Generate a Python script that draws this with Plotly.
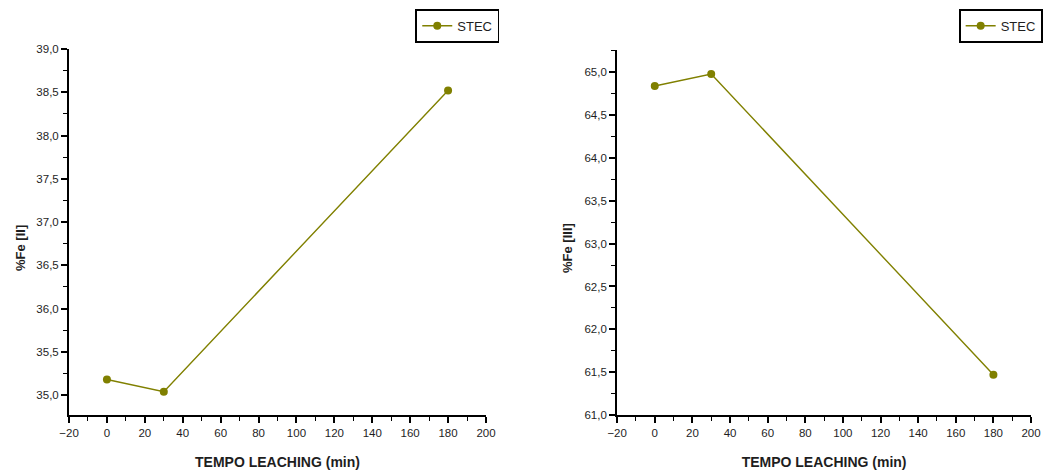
import plotly.graph_objects as go

# Leaching time (min) and iron content for the STEC samples
tempo = [0, 30, 180]
fe_ii = [35.18, 35.04, 38.52]
fe_iii = [64.84, 64.98, 61.47]

serie = "STEC"
x_title = "TEMPO LEACHING (min)"
y_title_left = "%Fe [II]"
y_title_right = "%Fe [III]"

OLIVE = "#808000"
FONT = "Liberation Sans, Arial, sans-serif"
INK = "#1e1e1e"

fig = go.Figure()

fig.add_trace(go.Scatter(
    x=tempo, y=fe_ii, mode="lines+markers", name=serie,
    line=dict(color=OLIVE, width=1.4),
    marker=dict(color=OLIVE, size=8, symbol="circle"),
    xaxis="x", yaxis="y", legend="legend",
))
fig.add_trace(go.Scatter(
    x=tempo, y=fe_iii, mode="lines+markers", name=serie,
    line=dict(color=OLIVE, width=1.4),
    marker=dict(color=OLIVE, size=8, symbol="circle"),
    xaxis="x2", yaxis="y2", legend="legend2",
))

tick_font = dict(family=FONT, size=11.5, color=INK)
title_font = dict(family=FONT, size=14, color=INK)

common_axis = dict(
    showline=True, linecolor="black", linewidth=2,
    ticks="outside", ticklen=6, tickwidth=1.6, tickcolor="black",
    showgrid=False, zeroline=False, tickfont=tick_font,
    automargin=False,
)

x_common = dict(
    common_axis, range=[-20, 200], dtick=20, tick0=0,
    minor=dict(ticks="outside", ticklen=4, tickwidth=1.4, tickcolor="black", dtick=10),
    title=dict(text="<b>" + x_title + "</b>", font=title_font, standoff=20),
)

y_minor = dict(ticks="outside", ticklen=4, tickwidth=1.4, tickcolor="black", dtick=0.25)

legend_style = dict(
    xanchor="right", yanchor="top",
    bordercolor="black", borderwidth=1.8, bgcolor="white",
    font=dict(family=FONT, size=13, color=INK),
    itemwidth=30, tracegroupgap=0,
)

fig.update_layout(
    template="none",
    width=1046, height=470,
    margin=dict(l=0, r=0, t=0, b=0),
    paper_bgcolor="white", plot_bgcolor="white",
    separators=",.",
    showlegend=True,
    font=dict(family=FONT, color=INK),
    xaxis=dict(x_common, domain=[0.066, 0.4646], anchor="y"),
    yaxis=dict(
        common_axis, domain=[0.117, 0.8957], anchor="x",
        range=[34.77, 39.0], dtick=0.5, tick0=35, tickformat=".1f",
        minor=y_minor,
    ),
    xaxis2=dict(x_common, domain=[0.590, 0.9857], anchor="y2"),
    yaxis2=dict(
        common_axis, domain=[0.117, 0.8936], anchor="x2",
        range=[61.0, 65.26], dtick=0.5, tick0=61, tickformat=".1f",
        minor=y_minor,
    ),
    legend=dict(legend_style, x=0.4775, y=0.981),
    legend2=dict(legend_style, x=0.997, y=0.981),
    annotations=[
        dict(text="<b>" + y_title_left + "</b>", textangle=-90,
             x=20 / 1046, y=1 - 248 / 470, xref="paper", yref="paper",
             xanchor="center", yanchor="middle", showarrow=False,
             font=dict(family=FONT, size=13, color=INK)),
        dict(text="<b>" + y_title_right + "</b>", textangle=-90,
             x=567 / 1046, y=1 - 248 / 470, xref="paper", yref="paper",
             xanchor="center", yanchor="middle", showarrow=False,
             font=dict(family=FONT, size=13, color=INK)),
    ],
)

fig.write_html("out.html")
